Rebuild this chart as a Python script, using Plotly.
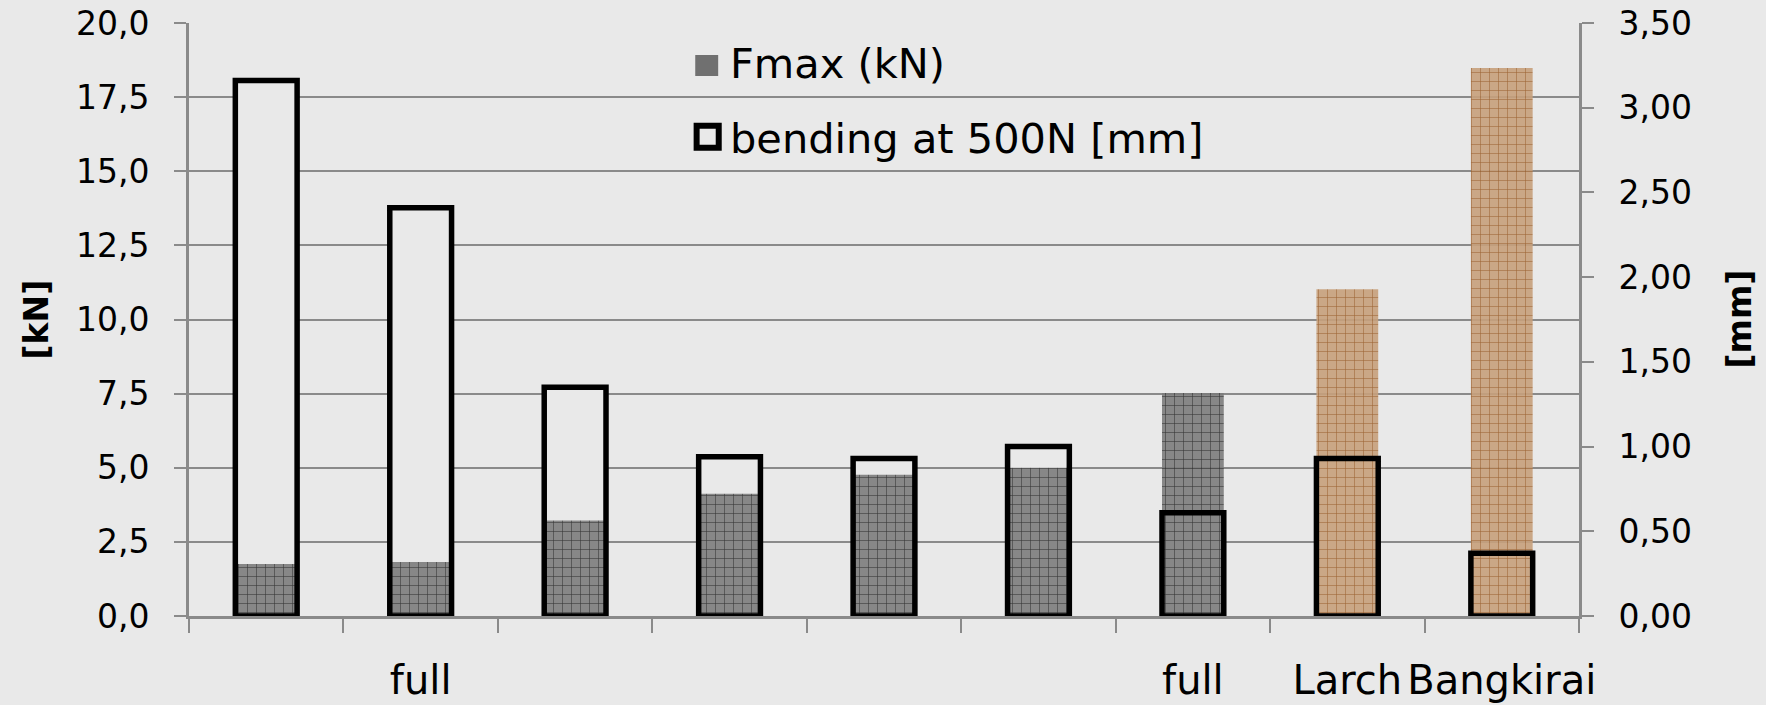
import plotly.graph_objects as go

# ---- data -------------------------------------------------------------
categories = ["", "full", "", "", "", "", "full", "Larch", "Bangkirai"]
fmax_kn = [1.75, 1.82, 3.22, 4.12, 4.76, 5.00, 7.52, 11.02, 18.48]
bending_mm = [3.16, 2.41, 1.35, 0.94, 0.93, 1.00, 0.61, 0.93, 0.37]

kn_ticks = [0, 2.5, 5, 7.5, 10, 12.5, 15, 17.5, 20]
mm_ticks = [0, 0.5, 1.0, 1.5, 2.0, 2.5, 3.0, 3.5]

# ---- style ------------------------------------------------------------
BG = "#e9e9e9"
GRID = "#8a8a8a"
FONT = "DejaVu Sans"
hardwood = {"Larch", "Bangkirai"}

x = list(range(len(categories)))
BAR_W = 0.4

fig = go.Figure()

# opaque body of the bending bars (hides gridlines inside the box)
fig.add_trace(go.Bar(
    x=x, y=bending_mm, width=BAR_W, yaxis="y",
    marker=dict(color=BG, line=dict(width=0)),
    showlegend=False, hoverinfo="skip",
))

# Fmax bars, cross-hatched: grey for the first group, tan for hardwoods
groups = [
    (lambda c: c not in hardwood, "#7c7c7c", "#151515"),
    (lambda c: c in hardwood, "#c7a07b", "#8f4d16"),
]
for keep, bg, fg in groups:
    fig.add_trace(go.Bar(
        x=x, y=[v if keep(c) else None for v, c in zip(fmax_kn, categories)],
        width=BAR_W, yaxis="y2", name="Fmax (kN)",
        marker=dict(
            color=bg, opacity=0.9, line=dict(width=0),
            pattern=dict(shape="+", fillmode="overlay", fgcolor=fg,
                         fgopacity=0.9, size=9, solidity=0.12),
        ),
        showlegend=False,
    ))

# bending outline on top
fig.add_trace(go.Bar(
    x=x, y=bending_mm, width=BAR_W, yaxis="y3", name="bending at 500N [mm]",
    marker=dict(color="rgba(0,0,0,0)", line=dict(color="black", width=5.5)),
    showlegend=False,
))

axis_font = dict(family=FONT, size=33, color="black")

fig.update_layout(
    width=1766, height=705,
    margin=dict(l=189, r=187, t=23, b=89, autoexpand=False),
    paper_bgcolor=BG, plot_bgcolor=BG,
    separators=", ",
    barmode="overlay",
    font=dict(family=FONT, color="black"),
    xaxis=dict(
        range=[-0.5, len(categories) - 0.5], automargin=False,
        tickmode="array", tickvals=x, ticktext=categories,
        ticks="", ticklabelstandoff=27,
        tickfont=dict(family=FONT, size=40, color="black"),
        showline=True, linecolor=GRID, linewidth=3,
        showgrid=False, zeroline=False,
        minor=dict(tickmode="linear", tick0=-0.5, dtick=1, ticks="outside",
                   ticklen=14, tickwidth=2, tickcolor=GRID, showgrid=False),
    ),
    yaxis=dict(
        side="right", range=[0, 3.5], tickvals=mm_ticks, tickformat=".2f",
        automargin=False,
        ticks="outside", ticklen=12, tickwidth=2, tickcolor=GRID,
        ticklabelstandoff=18, tickfont=axis_font,
        showline=True, linecolor=GRID, linewidth=3,
        showgrid=False, zeroline=False,
    ),
    yaxis2=dict(
        side="left", overlaying="y", range=[0, 20], tickvals=kn_ticks,
        tickformat=".1f", automargin=False,
        ticks="outside", ticklen=12, tickwidth=2, tickcolor=GRID,
        ticklabelstandoff=18, tickfont=axis_font,
        showline=True, linecolor=GRID, linewidth=3,
        showgrid=True, gridcolor=GRID, gridwidth=2, zeroline=False,
    ),
    yaxis3=dict(overlaying="y", matches="y", visible=False),
)

# axis titles
fig.add_annotation(text="<b>[kN]</b>", xref="paper", yref="paper", x=0, y=0.5,
                   xshift=-153, textangle=-90, showarrow=False,
                   xanchor="center", yanchor="middle",
                   font=dict(family=FONT, size=33, color="black"))
fig.add_annotation(text="<b>[mm]</b>", xref="paper", yref="paper", x=1, y=0.5,
                   xshift=160, textangle=-90, showarrow=False,
                   xanchor="center", yanchor="middle",
                   font=dict(family=FONT, size=33, color="black"))

# legend (inside the plot, top centre)
legend_font = dict(family=FONT, size=41.5, color="black")
fig.add_shape(type="rect", xref="paper", yref="paper",
              x0=0.3642, x1=0.3807, y0=0.9106, y1=0.946,
              fillcolor="#707070", line=dict(width=0))
fig.add_annotation(text="Fmax (kN)", xref="paper", yref="paper",
                   x=0.388, y=0.931, xanchor="left", yanchor="middle",
                   showarrow=False, font=legend_font)
fig.add_shape(type="rect", xref="paper", yref="paper",
              x0=0.3652, x1=0.3811, y0=0.7897, y1=0.8268,
              fillcolor=BG, line=dict(color="black", width=6))
fig.add_annotation(text="bending at 500N [mm]", xref="paper", yref="paper",
                   x=0.388, y=0.806, xanchor="left", yanchor="middle",
                   showarrow=False, font=legend_font)

fig.write_html("out.html")
